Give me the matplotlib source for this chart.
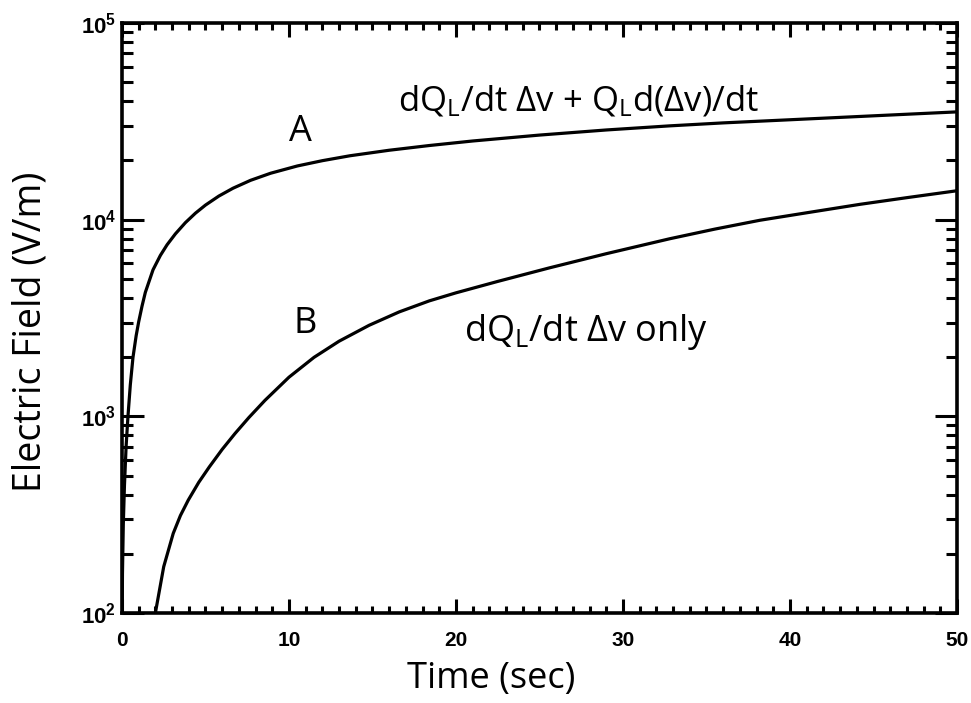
import matplotlib
matplotlib.use("Agg")
import matplotlib.pyplot as plt
from matplotlib.ticker import MultipleLocator, LogLocator, FixedLocator, NullFormatter

plt.rcParams['font.family'] = ['Open Sans', 'DejaVu Sans']
plt.rcParams['mathtext.default'] = 'regular'

# Curve A: dQ_L/dt Δv + Q_L d(Δv)/dt
t_a = [0.01, 0.03, 0.08, 0.15, 0.25, 0.36, 0.5, 0.66, 0.85, 1.0, 1.2, 1.4, 1.86, 2.3,
       2.7, 3.2, 3.8, 4.4, 5.0, 5.8, 6.65, 7.7, 8.9, 10.5, 12, 13.65, 16, 18.4, 21,
       25, 29, 32.8, 36, 40, 44, 47, 50]
e_a = [79, 158, 282, 447, 708, 1000, 1445, 1995, 2570, 3020, 3630, 4270, 5560, 6580,
       7450, 8470, 9660, 10790, 11860, 13180, 14450, 15850, 17220, 18750, 19950,
       21130, 22540, 23820, 25120, 26920, 28580, 29990, 31050, 32210, 33420, 34360,
       35320]

# Curve B: dQ_L/dt Δv only
t_b = [2.0, 2.5, 3.07, 3.5, 3.97, 4.6, 5.23, 6.0, 6.77, 7.6, 8.56, 10, 11.5, 13,
       14.8, 16.6, 18.4, 20, 22.5, 25.6, 29, 32.8, 35.5, 38.2, 41, 44.2, 47, 50]
e_b = [100, 172, 254, 313, 375, 462, 553, 679, 818, 986, 1205, 1581, 1995, 2410,
       2904, 3396, 3864, 4246, 4853, 5689, 6714, 7998, 8954, 9931, 10840, 11970,
       12940, 14030]

x_ticks = [0, 10, 20, 30, 40, 50]
y_ticks = [1e2, 1e3, 1e4, 1e5]
y_ticklabels = ['10$^{2}$', '10$^{3}$', '10$^{4}$', '10$^{5}$']

fig = plt.figure(figsize=(9.71, 7.03), dpi=100)
ax = fig.add_axes([0.1256, 0.128, 0.86, 0.8393])

ax.plot(t_a, e_a, color='black', lw=2.3, solid_capstyle='round', solid_joinstyle='round')
ax.plot(t_b, e_b, color='black', lw=2.3, solid_capstyle='round', solid_joinstyle='round')

ax.set_yscale('log')
ax.set_xlim(0, 50)
ax.set_ylim(1e2, 1e5)

ax.xaxis.set_major_locator(FixedLocator(x_ticks))
ax.xaxis.set_minor_locator(MultipleLocator(1))
ax.yaxis.set_major_locator(FixedLocator(y_ticks))
ax.yaxis.set_minor_locator(LogLocator(base=10, subs=range(2, 10)))
ax.yaxis.set_minor_formatter(NullFormatter())
ax.set_xticklabels([str(v) for v in x_ticks], fontweight='bold', fontsize=15,
                   family=['Liberation Sans', 'DejaVu Sans'])
ax.set_yticklabels(y_ticklabels, fontweight='bold', fontsize=16,
                   family=['Liberation Sans', 'DejaVu Sans'])

ax.tick_params(axis='both', which='both', direction='in', top=True, right=True,
               color='black')
ax.tick_params(axis='x', which='major', length=10, width=2.2, pad=13)
ax.tick_params(axis='x', which='minor', length=5, width=2.2)
ax.tick_params(axis='y', which='major', length=16, width=2.2, pad=4)
ax.tick_params(axis='y', which='minor', length=8, width=2.2)

for s in ax.spines.values():
    s.set_linewidth(2.6)

xl = ax.set_xlabel('Time (sec)', fontsize=26)
xl.set_verticalalignment('center')
ax.xaxis.set_label_coords(0.442, -0.112)
yl = ax.set_ylabel('Electric Field (V/m)', fontsize=27)
yl.set_verticalalignment('center')
ax.yaxis.set_label_coords(-0.109, 0.476)

ax.text(10.66, 2.52e4, 'A', fontsize=26, ha='center', va='baseline')
ax.text(10.96, 2.64e3, 'B', fontsize=26, ha='center', va='baseline')
ax.text(16.5, 3.57e4, 'dQ$_L$/dt \u0394v + Q$_L$d(\u0394v)/dt', fontsize=25,
        ha='left', va='baseline')
ax.text(20.5, 2.43e3, 'dQ$_L$/dt \u0394v only', fontsize=26, ha='left', va='baseline')

fig.savefig('out.png', dpi=100)
